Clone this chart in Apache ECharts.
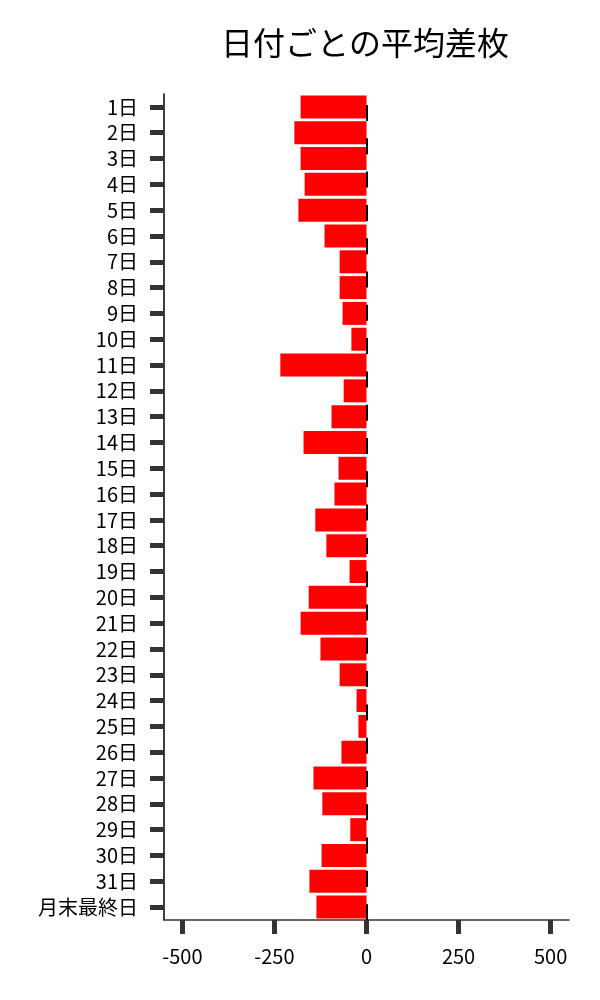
<!DOCTYPE html>
<html>
<head>
<meta charset="utf-8">
<script src="https://cdn.jsdelivr.net/npm/echarts@6/dist/echarts.min.js"></script>
<style>
html,body{margin:0;padding:0;background:#fff;}
#chart{width:600px;height:1000px;}
</style>
</head>
<body>
<div id="chart"></div>
<script>
const categories = ['1日','2日','3日','4日','5日','6日','7日','8日','9日','10日','11日','12日','13日','14日','15日','16日','17日','18日','19日','20日','21日','22日','23日','24日','25日','26日','27日','28日','29日','30日','31日','月末最終日'];
const values = [-179,-196,-179,-168,-185,-114,-73,-73,-65,-41,-234,-62,-95,-171,-76,-87,-139,-109,-46,-157,-179,-125,-73,-27,-22,-68,-144,-120,-44,-122,-155,-136];
const xTicks = [-500,-250,0,250,500];
const titleText = '日付ごとの平均差枚';

const font = '"Noto Sans CJK JP", "Noto Sans", sans-serif';
const chart = echarts.init(document.getElementById('chart'));
chart.setOption({
  animation: false,
  backgroundColor: '#fff',
  title: {
    text: titleText,
    left: 360, top: 22, textAlign: 'center',
    textStyle: {fontFamily: font, fontSize: 32, fontWeight: 'normal', color: '#000'}
  },
  grid: {left: 164, right: 31, top: 94, bottom: 80, containLabel: false},
  xAxis: {
    type: 'value', min: -550, max: 550,
    splitLine: {show: false},
    axisLine: {show: true, onZero: false, lineStyle: {color: '#333', width: 1.5}},
    axisTick: {show: true, length: 14, customValues: xTicks, lineStyle: {color: '#333', width: 5}},
    axisLabel: {customValues: xTicks, margin: 26, fontFamily: font, fontSize: 20, color: '#000'}
  },
  yAxis: {
    type: 'category', data: categories, inverse: true,
    axisLine: {show: true, onZero: false, lineStyle: {color: '#000', width: 1.5}},
    axisTick: {show: true, interval: 0, alignWithLabel: true, length: 14, lineStyle: {color: '#333', width: 5}},
    axisLabel: {interval: 0, margin: 26, fontFamily: font, fontSize: 20, color: '#000'}
  },
  series: [{
    type: 'bar', data: values, barCategoryGap: '11%',
    itemStyle: {color: '#ff0000'},
    markLine: {
      silent: true, symbol: 'none', label: {show: false},
      lineStyle: {color: '#000', width: 2, type: [16, 17.3], dashOffset: 22.3},
      data: [{xAxis: 0}]
    }
  }]
});
</script>
</body>
</html>
